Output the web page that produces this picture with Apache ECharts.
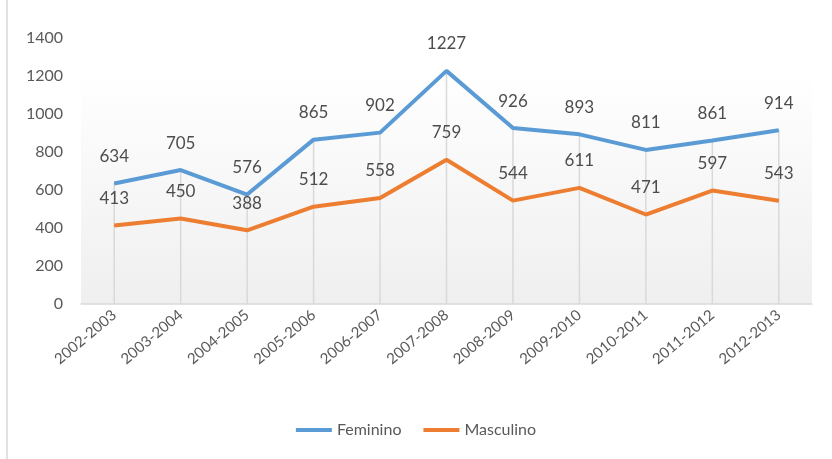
<!DOCTYPE html>
<html>
<head>
<meta charset="utf-8">
<script src="https://cdn.jsdelivr.net/npm/echarts@6/dist/echarts.min.js"></script>
<style>
  html, body { margin: 0; padding: 0; background: #fff; }
  #chart { width: 832px; height: 459px; }
</style>
</head>
<body>
<div id="chart"></div>
<script>
// anos lectivos
var categories = ["2002-2003", "2003-2004", "2004-2005", "2005-2006", "2006-2007", "2007-2008",
  "2008-2009", "2009-2010", "2010-2011", "2011-2012", "2012-2013"];
var feminino = [634, 705, 576, 865, 902, 1227, 926, 893, 811, 861, 914];
var masculino = [413, 450, 388, 512, 558, 759, 544, 611, 471, 597, 543];
var yTicks = [0, 200, 400, 600, 800, 1000, 1200, 1400];

// linhas verticais (drop lines) do ponto mais alto ate ao eixo
var dropLines = [];
for (var i = 0; i < categories.length; i++) {
  dropLines.push(Math.max(feminino[i], masculino[i]));
}

var fontName = "Lato, 'Open Sans', sans-serif";
var myChart = echarts.init(document.getElementById("chart"));

function lineLabel() {
  return {
    show: true,
    position: "top",
    distance: 18,
    color: "#4d4d4d",
    fontSize: 17,
    fontFamily: fontName
  };
}

var option = {
  animation: false,
  textStyle: { fontFamily: fontName },
  graphic: [
    {
      type: "line",
      shape: { x1: 7, y1: 0, x2: 7, y2: 459 },
      style: { stroke: "#d9d9d9", lineWidth: 1.5 }
    },
    {
      type: "rect",
      z: -10,
      shape: { x: 81, y: 72, width: 731, height: 232 },
      style: {
        fill: new echarts.graphic.LinearGradient(0, 0, 0, 1, [
          { offset: 0, color: "#ffffff" },
          { offset: 1, color: "#efefef" }
        ])
      }
    }
  ],
  grid: {
    left: 81,
    right: 20,
    top: 38,
    bottom: 155
  },
  legend: {
    bottom: 16,
    left: "center",
    itemWidth: 36,
    itemHeight: 4,
    itemGap: 22,
    icon: "rect",
    data: ["Feminino", "Masculino"],
    textStyle: { color: "#595959", fontSize: 16, fontFamily: fontName }
  },
  xAxis: {
    type: "category",
    data: categories,
    boundaryGap: true,
    axisLine: { show: true, lineStyle: { color: "#d9d9d9", width: 1.5 } },
    axisTick: { show: false },
    splitLine: { show: false },
    axisLabel: {
      rotate: 40,
      interval: 0,
      color: "#595959",
      fontSize: 15,
      margin: 9,
      fontFamily: fontName
    }
  },
  yAxis: {
    type: "value",
    min: yTicks[0],
    max: yTicks[yTicks.length - 1],
    interval: 200,
    axisLine: { show: false },
    axisTick: { show: false },
    splitLine: { show: false },
    axisLabel: {
      color: "#595959",
      fontSize: 16,
      margin: 18,
      fontFamily: fontName,
      formatter: function (v) { return String(v); }
    }
  },
  series: [
    {
      name: "drop",
      type: "bar",
      data: dropLines,
      barWidth: 1.5,
      silent: true,
      z: 1,
      itemStyle: { color: "#d9d9d9" }
    },
    {
      name: "Feminino",
      type: "line",
      data: feminino,
      z: 3,
      symbol: "circle",
      symbolSize: 1,
      showSymbol: true,
      color: "#5b9bd5",
      itemStyle: { color: "#5b9bd5" },
      lineStyle: { width: 4, color: "#5b9bd5" },
      label: lineLabel()
    },
    {
      name: "Masculino",
      type: "line",
      data: masculino,
      z: 3,
      symbol: "circle",
      symbolSize: 1,
      showSymbol: true,
      color: "#ed7d31",
      itemStyle: { color: "#ed7d31" },
      lineStyle: { width: 4, color: "#ed7d31" },
      label: lineLabel()
    }
  ]
};
myChart.setOption(option, true);
</script>
</body>
</html>
